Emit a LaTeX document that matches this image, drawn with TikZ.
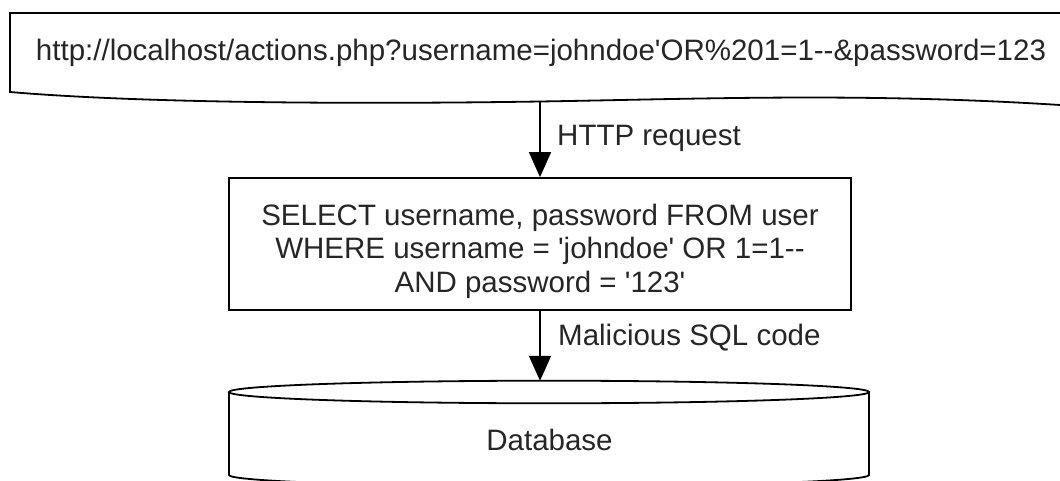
\documentclass[tikz,border=0pt]{standalone}
\usepackage{fontspec}
\setmainfont{Liberation Sans}
\usetikzlibrary{arrows.meta}
\newcommand{\sq}{\textquotesingle}
\begin{document}
\begin{tikzpicture}[x=1pt,y=-1pt,
  shapeline/.style={draw=black, line width=1.8pt, line join=miter, fill=white},
  lbl/.style={font=\fontsize{29.5}{33.5}\selectfont, inner sep=0pt, anchor=base west, text=black!85},
  txt/.style={font=\fontsize{29.5}{33.5}\selectfont, inner sep=0pt, align=center, text=black!85},
  arr/.style={-{Triangle[width=22pt,length=25pt]}, line width=1.8pt}]
\useasboundingbox (0,0) rectangle (1060,481);
\fill[white] (0,0) rectangle (1060,481);
% document shape (wavy bottom)
\draw[shapeline] (1075,13) -- (10,13) -- (10,92)
  .. controls (150,104) and (380,104) .. (540,101.5)
  .. controls (700,99) and (870,92) .. (1075,106);
\coordinate (docbot) at (540,101.5);
\node[txt, anchor=base] (url) at (541,61) {http://localhost/actions.php?username=johndoe\sq OR\%201=1-{}-\&password=123};
% SQL box
\node[shapeline, minimum width=622pt, minimum height=132pt, inner sep=0pt] (sql) at (540,244) {};
\node[txt] (sqltxt) at (540,251) {SELECT username, password FROM user\\WHERE username = \sq johndoe\sq{} OR 1=1-{}-\\AND password = \sq 123\sq};
% database cylinder
\draw[shapeline] (229,392) -- (229,475) arc[start angle=180, end angle=360, x radius=320pt, y radius=11.3pt] -- (869,392);
\draw[shapeline] (549,392) ellipse [x radius=320pt, y radius=11.3pt];
\coordinate (dbtop) at (540,380.8);
\node[txt, anchor=base] (db) at (549.5,450) {Database};
% connectors
\draw[arr] (docbot) -- (sql.north);
\draw[arr] (sql.south) -- (dbtop);
\node[lbl] (l1) at (557,146) {HTTP request};
\node[lbl] (l2) at (558,345) {Malicious SQL code};
\end{tikzpicture}
\end{document}
